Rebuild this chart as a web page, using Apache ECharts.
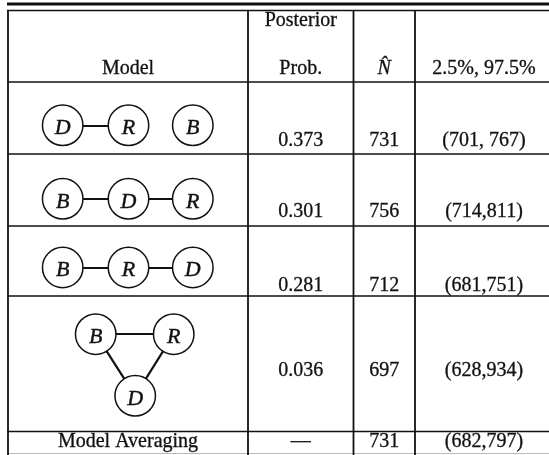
<!DOCTYPE html>
<html>
<head>
<meta charset="utf-8">
<script src="https://cdn.jsdelivr.net/npm/echarts@6/dist/echarts.min.js"></script>
<style>
  html, body { margin: 0; padding: 0; background: #fff; }
  #chart { width: 549px; height: 455px; }
</style>
</head>
<body>
<div id="chart"></div>
<script>
// ---- Table content ----
const headingTop = ['', 'Posterior', '', ''];
const headingBottom = ['Model', 'Prob.', 'N\u0302', '2.5%, 97.5%'];

// Each model is an undirected graph over the variables D, R, B
const modelVertices = [
  ['D', 'R', 'B'],
  ['B', 'D', 'R'],
  ['B', 'R', 'D'],
  ['B', 'R', 'D']
];
const modelEdges = [
  [['D', 'R']],
  [['B', 'D'], ['D', 'R']],
  [['B', 'R'], ['R', 'D']],
  [['B', 'R'], ['B', 'D'], ['R', 'D']]
];
const posteriorProb = ['0.373', '0.301', '0.281', '0.036'];
const nHat = ['731', '756', '712', '697'];
const interval = ['(701, 767)', '(714,811)', '(681,751)', '(628,934)'];
const averagedRow = ['Model Averaging', '\u2014', '731', '(682,797)'];

// ---- Layout (page units, one unit per pixel) ----
const W = 549, H = 455;
const colEdges = [8, 248, 353.5, 415, 553];
const rowEdges = [10.5, 82, 154, 226, 296, 431.5];
const headingTopY = 20.5;
const rowTextY = [69, 140.5, 212, 285.5, 370.5, 441.5];
const chainSlotX = [62.7, 128.5, 192.8];
const chainY = [125.3, 198.8, 267.5];
const triangleSlots = { B: [95.7, 334.2], R: [173.7, 334.2], D: [135.2, 395.8] };
const FONT = '"Liberation Serif", "Times New Roman", serif';
const INK = '#111';

// Ruled lines of the table
const rules = [];
rules.push({ x1: 7, y1: 4, x2: W, y2: 4, w: 3, c: INK });
rowEdges.forEach(y => rules.push({ x1: colEdges[0] - 1, y1: y, x2: W, y2: y, w: 1.6, c: INK }));
rules.push({ x1: colEdges[0] - 1, y1: 453.5, x2: W, y2: 453.5, w: 1, c: '#bbb' });
colEdges.slice(0, 4).forEach(x => rules.push({ x1: x, y1: rowEdges[0], x2: x, y2: H, w: 1.8, c: INK }));

// Text cells
const colCenter = i => (colEdges[i] + colEdges[i + 1]) / 2;
const cells = [];
headingTop.forEach((t, c) => { if (t) cells.push({ t, x: colCenter(c), y: headingTopY }); });
headingBottom.forEach((t, c) => cells.push({ t, x: colCenter(c), y: rowTextY[0], italic: c === 2 }));
posteriorProb.forEach((t, r) => {
  cells.push({ t, x: colCenter(1), y: rowTextY[r + 1] });
  cells.push({ t: nHat[r], x: colCenter(2), y: rowTextY[r + 1] });
  cells.push({ t: interval[r], x: colCenter(3), y: rowTextY[r + 1] });
});
averagedRow.forEach((t, c) => cells.push({ t, x: colCenter(c), y: rowTextY[5] }));

// Graph nodes and links for the model diagrams
const nodes = [], links = [];
modelVertices.forEach((verts, m) => {
  verts.forEach((v, k) => {
    const pos = m < 3 ? [chainSlotX[k], chainY[m]] : triangleSlots[v];
    nodes.push({ name: v + m, value: pos });
  });
  modelEdges[m].forEach(([a, b]) => links.push({ source: a + m, target: b + m }));
});

const chart = echarts.init(document.getElementById('chart'), null, { renderer: 'canvas' });
chart.setOption({
  animation: false,
  backgroundColor: '#fff',
  grid: { left: 0, top: 0, right: 0, bottom: 0, containLabel: false },
  xAxis: { type: 'value', min: 0, max: W, show: false },
  yAxis: { type: 'value', min: 0, max: H, inverse: true, show: false },
  series: [
    {
      type: 'custom',
      coordinateSystem: 'cartesian2d',
      silent: true,
      data: rules.map((r, i) => [i]),
      renderItem(params, api) {
        const r = rules[params.dataIndex];
        const p1 = api.coord([r.x1, r.y1]);
        const p2 = api.coord([r.x2, r.y2]);
        return {
          type: 'line',
          shape: { x1: p1[0], y1: p1[1], x2: p2[0], y2: p2[1] },
          style: { stroke: r.c, lineWidth: r.w }
        };
      }
    },
    {
      type: 'graph',
      coordinateSystem: 'cartesian2d',
      layout: 'none',
      silent: true,
      symbol: 'circle',
      symbolSize: 40.5,
      itemStyle: { color: '#fff', borderColor: INK, borderWidth: 1.5 },
      label: {
        show: true,
        position: 'inside',
        offset: [0, 3],
        formatter: p => p.name.charAt(0),
        fontFamily: FONT,
        fontStyle: 'italic',
        fontSize: 22,
        color: INK,
        textBorderColor: INK,
        textBorderWidth: 0.4
      },
      lineStyle: { color: INK, width: 2.2, opacity: 1, curveness: 0 },
      emphasis: { disabled: true },
      data: nodes,
      links: links,
      z: 3
    },
    {
      type: 'custom',
      coordinateSystem: 'cartesian2d',
      silent: true,
      z: 4,
      data: cells.map((c, i) => [i]),
      renderItem(params, api) {
        const c = cells[params.dataIndex];
        const p = api.coord([c.x, c.y]);
        return {
          type: 'text',
          x: p[0],
          y: p[1],
          style: {
            text: c.t,
            fill: INK,
            stroke: INK,
            lineWidth: 0.3,
            font: (c.italic ? 'italic ' : '') + '20px ' + FONT,
            textAlign: 'center',
            textVerticalAlign: 'middle',
            align: 'center',
            verticalAlign: 'middle'
          }
        };
      }
    }
  ]
});
</script>
</body>
</html>
